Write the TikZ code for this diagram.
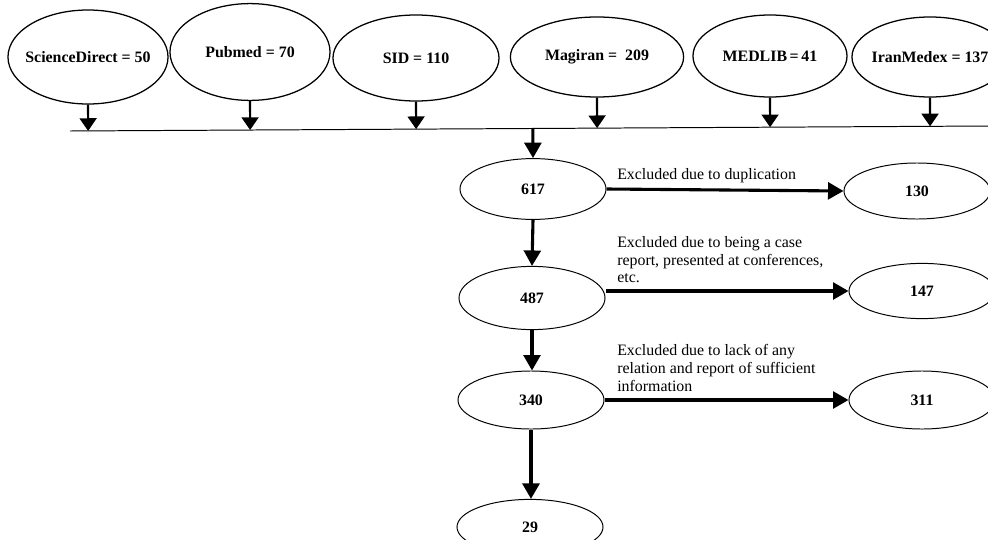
\documentclass[tikz,border=0pt]{standalone}
\usepackage{fontspec}
\setmainfont{Liberation Serif}
\usetikzlibrary{shapes,arrows.meta,calc}
\newcommand{\lbl}[1]{\makebox[0pt]{#1}}
\tikzset{
src/.style={ellipse, draw, line width=0.9pt, inner sep=0pt, font=\fontsize{11.3}{14}\selectfont\bfseries},
res/.style={ellipse, draw, line width=0.7pt, inner sep=0pt, minimum width=3.65cm, font=\fontsize{11.3}{14}\selectfont\bfseries},
drop/.style={-{Triangle[width=12pt,length=9pt]}, line width=1.5pt},
flow/.style={-{Triangle[width=12pt,length=11pt]}, line width=2.2pt},
note/.style={anchor=west, inner sep=0pt, align=left, font=\fontsize{11.3}{12.5}\selectfont}
}

\begin{document}
\begin{tikzpicture}[x=0.025cm, y=-0.025cm]
\useasboundingbox (0,0) rectangle (988,540);
\node[src, minimum width=4cm, minimum height=2.35cm] (sd) at (88,57) {\lbl{ScienceDirect = 50}};
\node[src, minimum width=4cm, minimum height=2.42cm] (pm) at (250,52) {\lbl{Pubmed = 70}};
\node[src, minimum width=4.15cm, minimum height=2.15cm] (sid) at (416,58) {\lbl{\raisebox{-3pt}{SID = 110}}};
\node[src, minimum width=4.33cm, minimum height=2cm] (mag) at (597,57) {\lbl{\raisebox{-3pt}{Magiran = \ 209}}};
\node[src, minimum width=3.85cm, minimum height=2.05cm] (med) at (770,56) {\lbl{\raisebox{-2pt}{MEDLIB\,=\,41}}};
\node[src, minimum width=3.9cm, minimum height=2cm] (iran) at (930,57) {\lbl{\raisebox{-2pt}{IranMedex = 137}}};

\coordinate (lnL) at (70,131);
\coordinate (lnR) at (990,126);
\draw[line width=0.7pt] (lnL) -- (lnR);
\foreach \s in {sd,pm,sid,mag,med,iran}
  \draw[drop] (\s.south) -- ($(lnL)!(\s.south)!(lnR)$);

\node[res, minimum height=1.52cm] (n617) at (533,189) {617};
\node[res, minimum height=1.4cm] (n130) at (917,191) {130};
\node[res, minimum height=1.58cm] (n487) at (532,298) {487};
\node[res, minimum height=1.38cm] (n147) at (922,291) {147};
\node[res, minimum height=1.45cm] (n340) at (531,400) {340};
\node[res, minimum height=1.45cm] (n311) at (922,400) {311};
\node[res, minimum height=1.38cm] (n29) at (530,527) {29};

\draw[flow] ($(lnL)!(n617.north)!(lnR)$) -- (n617.north);
\draw[flow] (n617.south) -- (n487.north);
\draw[flow] (n487.south) -- (n487.south |- n340.north);
\draw[flow] (n340.south) -- (n340.south |- n29.north);
\draw[flow] (n617.east) -- (n130.west);
\draw[flow] (n487.east |- n147.west) -- (n147.west);
\draw[flow] (n340.east) -- (n311.west);

\node[note] (dup) at (617,176) {Excluded due to duplication};
\node[note] (case) at (617,260) {Excluded due to being a case\\report, presented at conferences,\\etc.};
\node[note] (lack) at (617,368) {Excluded due to lack of any\\relation and report of sufficient\\information};
\end{tikzpicture}
\end{document}
